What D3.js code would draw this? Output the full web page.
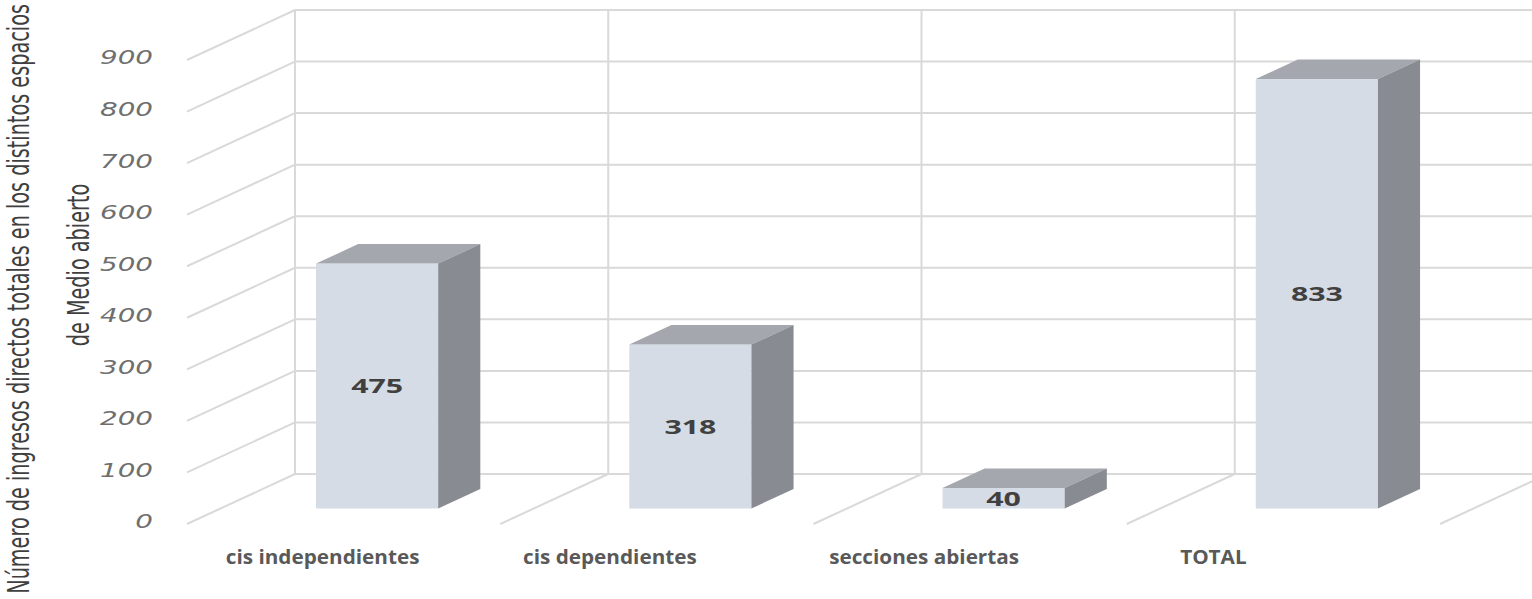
<!DOCTYPE html>
<html>
<head>
<meta charset="utf-8">
<script src="https://cdn.jsdelivr.net/npm/d3@7"></script>
<style>
  html, body { margin: 0; padding: 0; background: #ffffff; }
  svg { display: block; }
</style>
</head>
<body>
<svg id="chart" width="1532" height="599"></svg>
<script>
// ---- data ----
const categories = ["cis independientes", "cis dependientes", "secciones abiertas", "TOTAL"];
const values = [475, 318, 40, 833];
const tickValues = [0, 100, 200, 300, 400, 500, 600, 700, 800, 900];
const titleLines = ["Número de ingresos directos totales en los distintos espacios", "de Medio abierto"];

// ---- layout ----
const W = 1532, H = 599;
const svg = d3.select("#chart");

const depthDX = 108, depthDY = -50;      // full depth offset (front -> back wall)
const barF0 = 0.31, barF1 = 0.70;        // bar front/back depth fraction
const barWidthFrac = 0.39;

const x = d3.scaleBand().domain(categories).range([187, 1440]).padding(0);
const y = d3.scaleLinear().domain([0, 900]).range([524, 60]);
const yBack = v => y(v) + depthDY;

const gridColor = "#d9d9d9";
const grid = svg.append("g").attr("stroke", gridColor).attr("stroke-width", 2).attr("fill", "none");

// back wall horizontals
grid.selectAll("line.bh").data(tickValues).join("line")
  .attr("class", "bh")
  .attr("x1", 187 + depthDX).attr("x2", W + 20)
  .attr("y1", d => yBack(d)).attr("y2", d => yBack(d));

// left side wall diagonals
grid.selectAll("line.sd").data(tickValues).join("line")
  .attr("class", "sd")
  .attr("x1", 187).attr("y1", d => y(d))
  .attr("x2", 187 + depthDX).attr("y2", d => yBack(d));

// back wall verticals (category boundaries)
const boundaries = categories.map(c => x(c)).concat([x(categories[categories.length - 1]) + x.bandwidth()]);
grid.selectAll("line.bv").data(boundaries).join("line")
  .attr("class", "bv")
  .attr("x1", d => d + depthDX).attr("x2", d => d + depthDX)
  .attr("y1", yBack(0)).attr("y2", yBack(900));

// floor diagonals
grid.selectAll("line.fd").data(boundaries.slice(1)).join("line")
  .attr("class", "fd")
  .attr("x1", d => d).attr("y1", y(0))
  .attr("x2", d => d + depthDX).attr("y2", yBack(0));

// ---- bars ----
const bw = x.bandwidth() * barWidthFrac;
const fdx = depthDX * barF0, fdy = depthDY * barF0;
const ddx = depthDX * (barF1 - barF0), ddy = depthDY * (barF1 - barF0);
const bars = svg.append("g");
const data = categories.map((c, i) => ({ c, v: values[i] }));

bars.selectAll("g.bar").data(data).join("g").attr("class", "bar").each(function (d) {
  const g = d3.select(this);
  const x0 = x(d.c) + (x.bandwidth() - bw) / 2 + fdx;
  const yt = y(d.v) + fdy, yb = y(0) + fdy;
  g.append("rect").attr("x", x0).attr("y", yt).attr("width", bw).attr("height", yb - yt)
    .attr("fill", "#d6dce5");
  g.append("polygon").attr("points", [
    [x0, yt], [x0 + bw, yt], [x0 + bw + ddx, yt + ddy], [x0 + ddx, yt + ddy]
  ].map(p => p.join(",")).join(" ")).attr("fill", "#a4a7ae");
  g.append("polygon").attr("points", [
    [x0 + bw, yt], [x0 + bw + ddx, yt + ddy], [x0 + bw + ddx, yb + ddy], [x0 + bw, yb]
  ].map(p => p.join(",")).join(" ")).attr("fill", "#888b92");
});

function measure(txt, font) {
  const t = svg.append("text").attr("style", font).text(txt);
  const w = t.node().getComputedTextLength();
  t.remove();
  return w;
}

// ---- data labels ----
const dlFont = "font-family:'Open Sans',sans-serif;font-weight:700;font-size:20px;";
const dlScale = 52 / measure("475", dlFont);
bars.selectAll("text.dl").data(data).join("text")
  .attr("class", "dl")
  .attr("transform", d => {
    const cx = x(d.c) + x.bandwidth() / 2 + fdx;
    const cy = (y(d.v) + y(0)) / 2 + fdy;
    return `translate(${cx},${cy}) scale(${dlScale},1)`;
  })
  .attr("style", dlFont)
  .attr("fill", "#404040")
  .attr("text-anchor", "middle")
  .attr("dominant-baseline", "central")
  .text(d => d.v);

// ---- y tick labels ----
const tkFont = "font-family:'DejaVu Sans',sans-serif;font-style:italic;font-size:19px;";
const tkScale = 53 / measure("900", tkFont);
svg.append("g").selectAll("text").data(tickValues).join("text")
  .attr("transform", d => `translate(153,${y(d) - 2}) scale(${tkScale},1)`)
  .attr("style", tkFont)
  .attr("fill", "#6f6f6f")
  .attr("text-anchor", "end")
  .attr("dominant-baseline", "central")
  .text(d => d);

// ---- category labels ----
const ctFont = "font-family:'Open Sans',sans-serif;font-weight:700;font-size:20px;";
const ctScale = 190 / measure(categories[2], ctFont);
const labelShift = [-21, -47, -46, -70];
svg.append("g").selectAll("text").data(categories).join("text")
  .attr("transform", (d, i) => `translate(${x(d) + x.bandwidth() / 2 + labelShift[i]},556) scale(${ctScale},1)`)
  .attr("style", ctFont)
  .attr("fill", "#595959")
  .attr("text-anchor", "middle")
  .attr("dominant-baseline", "central")
  .text(d => d);

// ---- axis title ----
const ttFont = "font-family:'Liberation Sans Narrow','DejaVu Sans Condensed',sans-serif;font-size:30px;";
const ttScale = 590 / measure(titleLines[0], ttFont);
const title = svg.append("g").attr("fill", "#3f3f3f");
title.append("text")
  .attr("transform", `translate(29,4) rotate(-90) scale(${ttScale},1)`)
  .attr("style", ttFont).attr("text-anchor", "end").text(titleLines[0]);
title.append("text")
  .attr("transform", `translate(89,265) rotate(-90) scale(${ttScale},1)`)
  .attr("style", ttFont).attr("text-anchor", "middle").text(titleLines[1]);
</script>
</body>
</html>
